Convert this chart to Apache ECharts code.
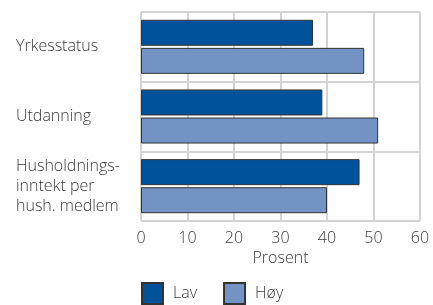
<!DOCTYPE html>
<html><head><meta charset="utf-8">
<script src="https://cdn.jsdelivr.net/npm/echarts@6/dist/echarts.min.js"></script>
<style>html,body{margin:0;padding:0;background:#fff}#c{width:433px;height:305px}</style>
</head><body><div id="c"></div>
<script>
const categories = ["Yrkesstatus", "Utdanning", "Husholdnings-\ninntekt per\nhush. medlem"];
const lav = [37, 39, 47];
const hoy = [48, 51, 40];
const xTicks = [0, 60, 10];
const font = "Open Sans";
const txt = '#3a3a3a';
const chart = echarts.init(document.getElementById('c'));
chart.setOption({
  animation: false,
  textStyle: {fontFamily: font},
  grid: {left: 141, right: 13, top: 12, bottom: 84},
  xAxis: {
    type: 'value', min: xTicks[0], max: xTicks[1], interval: xTicks[2],
    name: 'Prosent', nameLocation: 'middle', nameGap: 27,
    nameTextStyle: {fontSize: 16, color: txt, fontFamily: font, fontWeight: 300},
    axisLine: {show: false}, axisTick: {show: false},
    axisLabel: {fontSize: 16, color: txt, margin: 9, fontFamily: font, fontWeight: 300},
    splitLine: {show: true, lineStyle: {color: '#d3d3d3', width: 2}}
  },
  yAxis: {
    type: 'category', data: categories, inverse: true,
    axisLine: {show: false}, axisTick: {show: false},
    axisLabel: {align: 'left', margin: 125, fontSize: 16, color: txt, lineHeight: 20, fontFamily: font, fontWeight: 300},
    splitLine: {show: true, lineStyle: {color: '#d3d3d3', width: 2}}
  },
  legend: {
    bottom: -5, left: 136, itemWidth: 21, itemHeight: 21, itemGap: 26,
    icon: 'rect',
    textStyle: {fontSize: 16, color: txt, fontFamily: font, fontWeight: 300, padding: [0, 0, 0, 5]},
    data: ['Lav', 'Høy']
  },
  series: [
    {name: 'Lav', type: 'bar', data: lav, barWidth: 26, barGap: '8%',
     itemStyle: {color: '#00539b', borderColor: '#333', borderWidth: 1}},
    {name: 'Høy', type: 'bar', data: hoy, barWidth: 26,
     itemStyle: {color: '#7393c4', borderColor: '#333', borderWidth: 1}}
  ]
});
</script></body></html>
